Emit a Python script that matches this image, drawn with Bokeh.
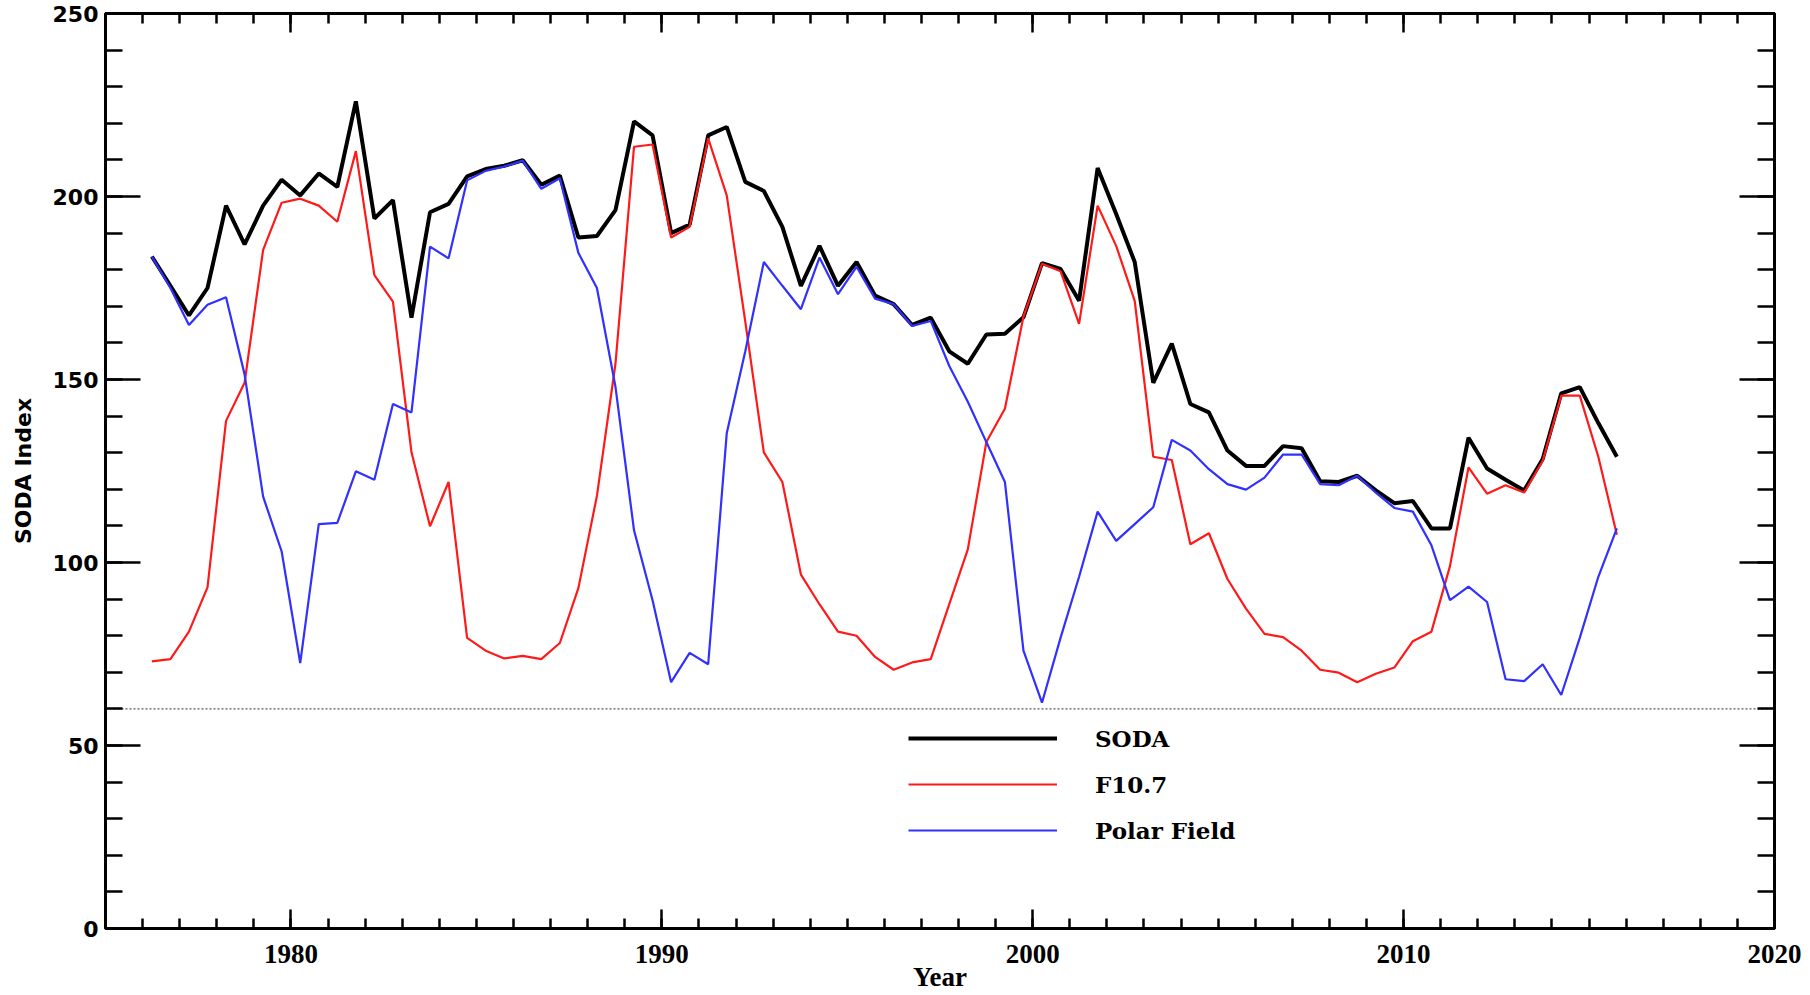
from bokeh.plotting import figure
from bokeh.models import (Range1d, LinearAxis, SingleIntervalTicker, Span,
                          Legend, LegendItem, ColumnDataSource)
from bokeh.embed import file_html
from bokeh.resources import INLINE

years = [1976.25, 1976.75, 1977.25, 1977.75, 1978.25, 1978.75, 1979.25, 1979.75,
         1980.25, 1980.75, 1981.25, 1981.75, 1982.25, 1982.75, 1983.25, 1983.75,
         1984.25, 1984.75, 1985.25, 1985.75, 1986.25, 1986.75, 1987.25, 1987.75,
         1988.25, 1988.75, 1989.25, 1989.75, 1990.25, 1990.75, 1991.25, 1991.75,
         1992.25, 1992.75, 1993.25, 1993.75, 1994.25, 1994.75, 1995.25, 1995.75,
         1996.25, 1996.75, 1997.25, 1997.75, 1998.25, 1998.75, 1999.25, 1999.75,
         2000.25, 2000.75, 2001.25, 2001.75, 2002.25, 2002.75, 2003.25, 2003.75,
         2004.25, 2004.75, 2005.25, 2005.75, 2006.25, 2006.75, 2007.25, 2007.75,
         2008.25, 2008.75, 2009.25, 2009.75, 2010.25, 2010.75, 2011.25, 2011.75,
         2012.25, 2012.75, 2013.25, 2013.75, 2014.25, 2014.75, 2015.25, 2015.75]

soda = [183.6, 175.6, 167.5, 175.0, 197.5, 186.9, 197.5, 204.6,
        200.3, 206.3, 202.6, 226.0, 194.0, 199.0, 166.9, 195.7,
        198.0, 205.5, 207.5, 208.4, 209.9, 203.2, 205.7, 188.8,
        189.2, 196.3, 220.5, 216.7, 190.0, 192.3, 216.7, 219.0,
        204.0, 201.5, 191.7, 175.6, 186.5, 175.6, 182.1, 172.9,
        170.6, 164.9, 166.9, 157.7, 154.3, 162.3, 162.5, 167.0,
        181.8, 180.2, 171.5, 207.8, 195.2, 182.1, 149.1, 159.8,
        143.3, 141.0, 130.6, 126.4, 126.4, 131.8, 131.2, 122.2,
        122.0, 123.7, 119.7, 116.2, 116.8, 109.3, 109.3, 134.1,
        125.7, 122.6, 119.7, 128.3, 146.2, 147.9, 138.1, 128.9]

f107 = [73.0, 73.6, 81.1, 93.2, 138.7, 149.1, 185.4, 198.3,
        199.4, 197.5, 193.1, 212.4, 178.5, 171.3, 130.1, 109.9,
        122.0, 79.4, 75.9, 73.8, 74.5, 73.6, 78.0, 93.0,
        118.2, 154.3, 213.6, 214.2, 188.8, 191.7, 215.9, 200.3,
        165.8, 130.1, 122.0, 96.7, 88.6, 81.1, 80.0, 74.2,
        70.7, 72.7, 73.6, 88.6, 103.6, 132.9, 142.0, 167.2,
        181.6, 179.6, 165.2, 197.5, 186.5, 171.5, 128.9, 128.0,
        105.0, 108.0, 95.5, 87.4, 80.5, 79.6, 75.9, 70.7,
        69.9, 67.3, 69.6, 71.3, 78.5, 81.1, 99.0, 126.0,
        118.8, 121.1, 119.1, 127.8, 145.6, 145.6, 128.9, 107.6]

polar = [183.6, 175.0, 164.9, 170.4, 172.5, 151.4, 118.0, 103.0,
         72.5, 110.5, 110.8, 124.9, 122.6, 143.3, 141.0, 186.3,
         183.1, 204.4, 207.0, 208.2, 209.8, 202.1, 205.0, 184.6,
         175.0, 148.0, 108.8, 89.7, 67.3, 75.3, 72.2, 135.3,
         157.7, 182.1, 175.6, 169.2, 183.3, 173.3, 180.8, 172.1,
         170.6, 164.6, 166.0, 153.7, 143.9, 132.9, 122.0, 75.9,
         61.7, 79.4, 96.1, 113.9, 105.9, 110.5, 115.1, 133.5,
         130.6, 125.5, 121.4, 119.9, 123.2, 129.5, 129.5, 121.4,
         121.1, 123.7, 119.1, 114.9, 113.9, 104.7, 89.7, 93.4,
         89.2, 68.1, 67.6, 72.2, 63.8, 79.4, 96.1, 109.3]

series_names = ["SODA", "F10.7", "Polar Field"]
reference_level = 60

src = ColumnDataSource(dict(year=years, soda=soda, f107=f107, polar=polar))

p = figure(width=1810, height=995, x_range=Range1d(1975, 2020), y_range=Range1d(0, 250),
           output_backend="svg", toolbar_location=None,
           min_border_left=105, min_border_right=36, min_border_top=13, min_border_bottom=67)
p.grid.visible = False
p.outline_line_color = "black"
p.outline_line_width = 3
p.background_fill_color = "white"
p.border_fill_color = "white"

xt = SingleIntervalTicker(interval=10, num_minor_ticks=10)
yt = SingleIntervalTicker(interval=50, num_minor_ticks=5)


def style_axis(ax, horizontal):
    ax.axis_line_color = "black"
    ax.axis_line_width = 3
    ax.major_tick_line_color = "black"
    ax.minor_tick_line_color = "black"
    ax.major_tick_line_width = 2.5
    ax.minor_tick_line_width = 2.5
    ax.major_tick_out = 0
    ax.minor_tick_out = 0
    if horizontal:
        ax.major_tick_in = 19
        ax.minor_tick_in = 10
    else:
        ax.major_tick_in = 35
        ax.minor_tick_in = 17


xa = p.xaxis[0]
xa.ticker = xt
style_axis(xa, True)
xa.major_label_text_font = "Liberation Serif"
xa.major_label_text_font_style = "bold"
xa.major_label_text_font_size = "27px"
xa.major_label_text_color = "black"
xa.major_label_standoff = 16
xa.axis_label = "Year"
xa.axis_label_text_font = "Liberation Serif"
xa.axis_label_text_font_style = "bold"
xa.axis_label_text_font_size = "27px"
xa.axis_label_text_color = "black"
xa.axis_label_standoff = -4

ya = p.yaxis[0]
ya.ticker = yt
style_axis(ya, False)
ya.major_label_text_font = "DejaVu Sans"
ya.major_label_text_font_style = "bold"
ya.major_label_text_font_size = "22px"
ya.major_label_text_color = "black"
ya.major_label_standoff = 7
ya.axis_label = "SODA Index"
ya.axis_label_text_font = "DejaVu Sans"
ya.axis_label_text_font_style = "bold"
ya.axis_label_text_font_size = "22px"
ya.axis_label_text_color = "black"
ya.axis_label_standoff = 14

top = LinearAxis(ticker=SingleIntervalTicker(interval=10, num_minor_ticks=10),
                 major_label_text_font_size="0px", major_label_text_color=None,
                 major_label_standoff=0)
style_axis(top, True)
p.add_layout(top, "above")

right = LinearAxis(ticker=SingleIntervalTicker(interval=50, num_minor_ticks=5),
                   major_label_text_font_size="0px", major_label_text_color=None,
                   major_label_standoff=0)
style_axis(right, False)
p.add_layout(right, "right")

p.add_layout(Span(location=reference_level, dimension="width", line_color="#555555",
                  line_dash="2 2", line_width=1.2, level="underlay"))

r_soda = p.line("year", "soda", source=src, line_color="black", line_width=4)
r_f107 = p.line("year", "f107", source=src, line_color="#ff1a1a", line_width=2.2)
r_polar = p.line("year", "polar", source=src, line_color="#3030ff", line_width=2.2)

legend = Legend(items=[LegendItem(label=series_names[0], renderers=[r_soda]),
                       LegendItem(label=series_names[1], renderers=[r_f107]),
                       LegendItem(label=series_names[2], renderers=[r_polar])],
                location=(803, 75), orientation="vertical",
                glyph_width=149, glyph_height=46, label_height=46, label_standoff=38,
                spacing=0, padding=0, margin=0,
                border_line_color=None, background_fill_alpha=0,
                label_text_font="DejaVu Serif", label_text_font_style="bold",
                label_text_font_size="23px", label_text_color="black")
p.add_layout(legend, "center")

open("out.html", "w").write(file_html(p, INLINE))
